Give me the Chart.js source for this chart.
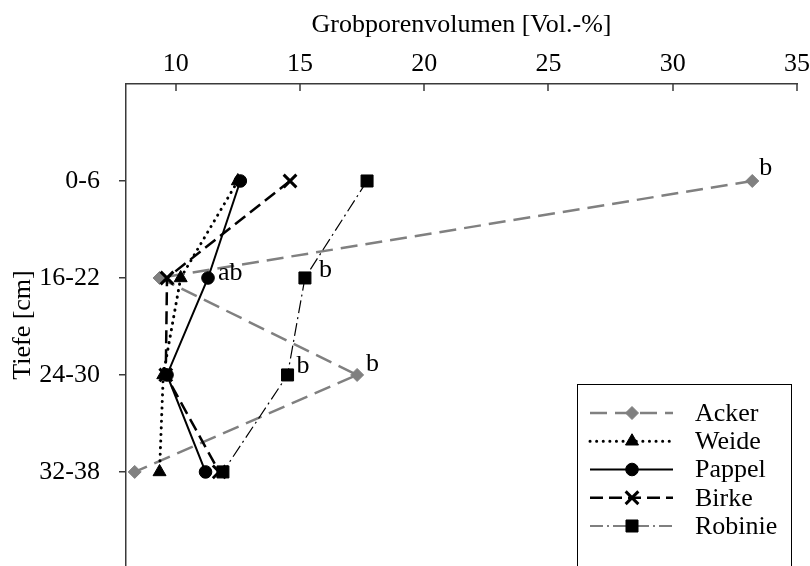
<!DOCTYPE html>
<html><head><meta charset="utf-8">
<script src="https://cdn.jsdelivr.net/npm/chart.js@4.4.1/dist/chart.umd.min.js"></script>
<style>html,body{margin:0;padding:0;background:#fff}#wrap{width:810px;height:566px;position:relative}</style>
</head><body><div id="wrap"><canvas id="c" width="810" height="566"></canvas></div>
<script>
// ---- data ----
const categories = ['0-6', '16-22', '24-30', '32-38'];
const seriesNames = ['Acker', 'Weide', 'Pappel', 'Birke', 'Robinie'];
const acker   = [33.2, 9.35, 17.3, 8.35];
const weide   = [12.5, 10.2, 9.5, 9.35];
const pappel  = [12.6, 11.3, 9.65, 11.2];
const birke   = [14.6, 9.65, 9.6, 11.75];
const robinie = [17.7, 15.2, 14.5, 11.9];
const xTicks = [10, 15, 20, 25, 30, 35];
const annotSeries = ['Acker', 'Robinie', 'Robinie', 'Acker', 'Pappel'];
const annotCat    = ['0-6', '16-22', '24-30', '24-30', '16-22'];
const annotText   = ['b', 'b', 'b', 'b', 'ab'];

// ---- styles ----
const FONT = '"Liberation Serif", "Times New Roman", serif';
const axisColor = '#3a3a3a';
const annotOffsets = [[7, -6], [14, -1], [9, -2], [9, -4], [10, 2]];
const styles = {
  Acker:   {color: '#808080', width: 2.5, dash: [17, 8], point: 'rectRot', radius: 6.5, pbw: 1},
  Weide:   {color: '#000000', width: 3, dash: [0.1, 6.5], point: 'triangle', radius: 7.5, pbw: 1, cap: 'round'},
  Pappel:  {color: '#000000', width: 2, dash: [], point: 'circle', radius: 6.3, pbw: 1},
  Birke:   {color: '#000000', width: 2.5, dash: [13, 6], point: 'crossRot', radius: 9, pbw: 3},
  Robinie: {color: '#000000', width: 1.2, dash: [13, 4, 2, 4], point: 'rect', radius: 8.5, pbw: 1}
};
const values = {Acker: acker, Weide: weide, Pappel: pappel, Birke: birke, Robinie: robinie};

Chart.defaults.font.family = FONT;
Chart.defaults.font.size = 26;
Chart.defaults.color = '#000';

const datasets = seriesNames.map((name, si) => {
  const s = styles[name];
  return {
    label: name,
    data: values[name].map((v, i) => ({x: v, y: i + 1})),
    borderColor: s.color,
    backgroundColor: s.color,
    borderWidth: s.width,
    borderDash: s.dash,
    borderCapStyle: s.cap || 'butt',
    pointStyle: s.point,
    pointRadius: s.radius,
    pointBorderWidth: s.pbw,
    pointBackgroundColor: s.color,
    pointBorderColor: s.color,
    tension: 0,
    fill: false,
    order: seriesNames.length - si
  };
});

const decor = {
  id: 'decor',
  afterDraw(chart) {
    const {ctx, scales: {x, y}} = chart;
    ctx.save();
    // inward ticks on top axis
    ctx.strokeStyle = axisColor; ctx.lineWidth = 1.5; ctx.setLineDash([]);
    xTicks.forEach(t => {
      const px = Math.round(x.getPixelForValue(t));
      ctx.beginPath(); ctx.moveTo(px, y.top); ctx.lineTo(px, y.top + 7); ctx.stroke();
    });
    // significance letters
    ctx.font = '26px ' + FONT; ctx.fillStyle = '#000';
    ctx.textAlign = 'left'; ctx.textBaseline = 'alphabetic';
    annotText.forEach((t, k) => {
      const si = seriesNames.indexOf(annotSeries[k]);
      const ci = categories.indexOf(annotCat[k]);
      const pt = chart.getDatasetMeta(si).data[ci];
      ctx.fillText(t, pt.x + annotOffsets[k][0], pt.y + annotOffsets[k][1]);
    });
    // legend
    const bx = 577, by = 384;
    ctx.fillStyle = '#fff';
    ctx.fillRect(bx, by, 214, 200);
    ctx.strokeStyle = '#000'; ctx.lineWidth = 1;
    ctx.strokeRect(bx + 0.5, by + 0.5, 214, 200);
    seriesNames.forEach((name, i) => {
      const s = styles[name];
      const ly = 413 + i * 28.25;
      ctx.strokeStyle = s.color; ctx.fillStyle = s.color;
      ctx.lineWidth = s.width; ctx.lineCap = s.cap || 'butt';
      ctx.setLineDash(s.dash);
      ctx.beginPath(); ctx.moveTo(590, ly); ctx.lineTo(673, ly); ctx.stroke();
      ctx.setLineDash([]); ctx.lineCap = 'butt';
      ctx.lineWidth = s.pbw;
      Chart.helpers.drawPoint(ctx, {pointStyle: s.point, radius: s.radius, rotation: 0, borderWidth: s.pbw}, 632, ly);
      ctx.fillStyle = '#000';
      ctx.textBaseline = 'middle';
      ctx.fillText(name, 695, ly + 1);
    });
    ctx.restore();
  }
};

const zeroPad = s => { s.paddingLeft = 0; s.paddingRight = 0; s.paddingTop = 0; s.paddingBottom = 0; };

new Chart(document.getElementById('c'), {
  type: 'line',
  data: {datasets},
  options: {
    responsive: false,
    animation: false,
    layout: {autoPadding: false, padding: {left: 0, right: 13, top: 0, bottom: 0}},
    plugins: {legend: {display: false}, tooltip: {enabled: false}},
    scales: {
      x: {
        type: 'linear', position: 'top', min: 8, max: 35,
        afterBuildTicks: s => { s.ticks = xTicks.map(v => ({value: v})); },
        afterFit: s => { s.height = 84; zeroPad(s); },
        ticks: {padding: 4, font: {size: 26}, color: '#000'},
        grid: {display: false, drawTicks: false, tickLength: 0},
        border: {display: true, color: axisColor, width: 1.5},
        title: {display: true, text: 'Grobporenvolumen [Vol.-%]', font: {size: 26}, color: '#000', padding: {top: 10, bottom: 0}}
      },
      y: {
        type: 'linear', reverse: true, min: 0, max: 4.97,
        afterBuildTicks: s => { s.ticks = categories.map((c, i) => ({value: i + 1})); },
        afterFit: s => { s.width = 126; zeroPad(s); },
        ticks: {padding: 19, font: {size: 26}, color: '#000', callback: v => categories[v - 1]},
        grid: {display: true, drawOnChartArea: false, drawTicks: true, tickLength: 7, color: axisColor, lineWidth: 1.5},
        border: {display: true, color: axisColor, width: 1.5},
        title: {display: true, text: 'Tiefe [cm]', font: {size: 26}, color: '#000', padding: {top: 8, bottom: 0}}
      }
    }
  },
  plugins: [decor]
});
</script>
</body></html>
